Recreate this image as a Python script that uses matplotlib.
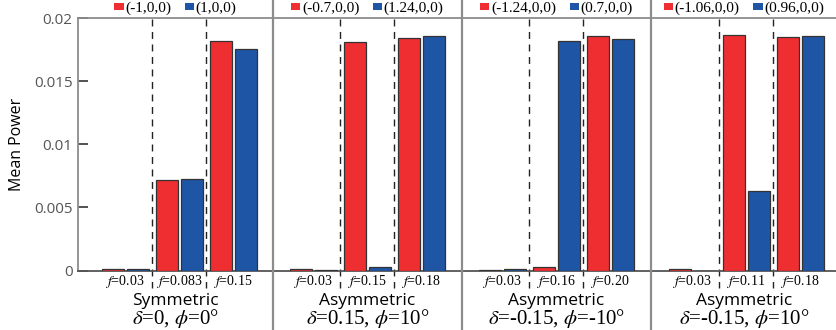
import matplotlib
matplotlib.use("Agg")
import matplotlib.pyplot as plt
from matplotlib.patches import Patch
from matplotlib.lines import Line2D

plt.rcParams['mathtext.fontset'] = 'stix'

# ---- data ----
panel_titles = ["Symmetric", "Asymmetric", "Asymmetric", "Asymmetric"]
panel_params = [r"$\delta$=0, $\phi$=0°", r"$\delta$=0.15, $\phi$=10°",
                r"$\delta$=-0.15, $\phi$=-10°", r"$\delta$=-0.15, $\phi$=10°"]
red_labels = ["(-1,0,0)", "(-0.7,0,0)", "(-1.24,0,0)", "(-1.06,0,0)"]
blue_labels = ["(1,0,0)", "(1.24,0,0)", "(0.7,0,0)", "(0.96,0,0)"]
freq_labels = [["0.03", "0.083", "0.15"],
               ["0.03", "0.15", "0.18"],
               ["0.03", "0.16", "0.20"],
               ["0.03", "0.11", "0.18"]]
red_power = [[0.00015, 0.00717, 0.01817],
             [0.0001, 0.0181, 0.0184],
             [0.00002, 0.0003, 0.01857],
             [0.0001, 0.01865, 0.01852]]
blue_power = [[0.00015, 0.00723, 0.01753],
              [0.00002, 0.00024, 0.01857],
              [0.00015, 0.01817, 0.01833],
              [0.0, 0.00632, 0.01857]]

RED = "#ee2e31"
BLUE = "#1f55a5"
GRAY = "#8c8c8c"

W, H = 837, 330
fig = plt.figure(figsize=(W / 100, H / 100), dpi=100)

# panel edges in pixels and start of first group in each panel
edges = [78, 273, 462, 651, 837]
first_group = [98, 286, 475, 665]
gw = 54.0
y_top, y_bot = 18.0, 270.5

for p in range(4):
    x0, x1 = edges[p], edges[p + 1]
    ax = fig.add_axes([x0 / W, 1 - y_bot / H, (x1 - x0) / W, (y_bot - y_top) / H])
    left = -(first_group[p] - x0) / gw
    right = (x1 - first_group[p]) / gw
    ax.set_xlim(left, right)
    ax.set_ylim(0, 0.02)

    xs = [0, 1, 2]
    ax.bar([x + 0.27 for x in xs], red_power[p], width=0.41, color=RED,
           edgecolor="#333333", linewidth=0.9, zorder=3)
    ax.bar([x + 0.74 for x in xs], blue_power[p], width=0.41, color=BLUE,
           edgecolor="#333333", linewidth=0.9, zorder=3)

    # dashed group dividers, running down through the label row
    for d in (1, 2):
        ax.plot([d, d], [0.0199, -0.0014], color="#222222", lw=1.0,
                ls=(0, (5, 4)), zorder=2, clip_on=False)

    ax.set_xticks([x + 0.5 for x in xs])
    ax.set_xticklabels([r"$f$=" + s for s in freq_labels[p]],
                       fontfamily="Liberation Serif", fontsize=10)
    ax.tick_params(axis='x', length=0, pad=2)

    for s in ("left", "right"):
        ax.spines[s].set_visible(False)
    ax.spines["top"].set_color(GRAY)
    ax.spines["top"].set_linewidth(1.3)
    ax.spines["bottom"].set_color("#555555")
    ax.spines["bottom"].set_linewidth(1.3)

    if p == 0:
        ax.spines["left"].set_visible(True)
        ax.spines["left"].set_color(GRAY)
        ax.spines["left"].set_linewidth(1.3)
        ax.set_yticks([0, 0.005, 0.01, 0.015, 0.02])
        ax.set_yticklabels(["0", "0.005", "0.01", "0.015", "0.02"],
                           fontfamily="Open Sans", fontsize=11, color="#555555")
        ax.tick_params(axis='y', direction='in', length=7, width=1.3,
                       color="#444444", pad=4)
        ax.set_ylabel("Mean Power", fontfamily="Open Sans", fontsize=11.5,
                      labelpad=6)
    else:
        ax.set_yticks([])

    handles = [Patch(facecolor=RED, edgecolor="none", label=red_labels[p]),
               Patch(facecolor=BLUE, edgecolor="none", label=blue_labels[p])]
    ax.legend(handles=handles, loc="lower center", bbox_to_anchor=(0.5, 1.0),
              ncol=2, frameon=False, handlelength=0.6, handleheight=0.35,
              handletextpad=0.1, columnspacing=0.9, borderpad=0.2,
              borderaxespad=0.0,
              prop={"family": "Liberation Serif", "size": 11})

    cx = (x0 + x1) / 2 / W
    fig.text(cx, 1 - 301 / H, panel_titles[p], ha="center", va="center",
             fontfamily="Open Sans", fontsize=12.5)
    fig.text(cx, 1 - 319 / H, panel_params[p], ha="center", va="center",
             fontfamily="Liberation Serif", fontsize=15)

# panel separators across the full height
for xe in edges[1:4]:
    fig.add_artist(Line2D([xe / W, xe / W], [0, 1], transform=fig.transFigure,
                          color=GRAY, lw=1.6))

fig.savefig("out.png", dpi=100)
